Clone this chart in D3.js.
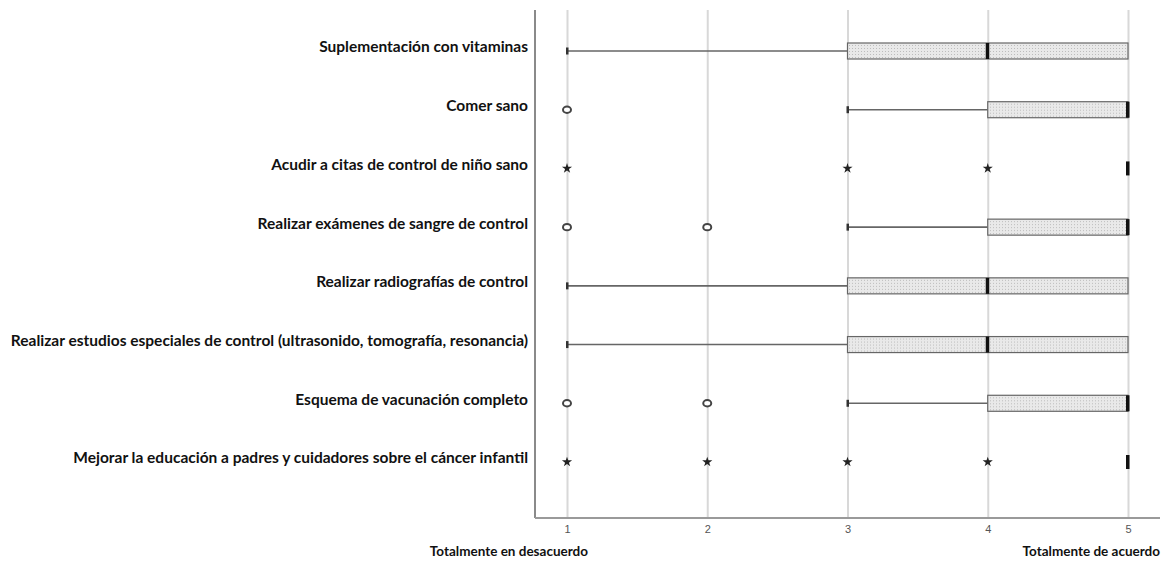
<!DOCTYPE html>
<html>
<head>
<meta charset="utf-8">
<script src="https://cdn.jsdelivr.net/npm/d3@7"></script>
<style>
  body { margin: 0; background: #fff; }
  svg { display: block; }
</style>
</head>
<body>
<svg width="1166" height="567"></svg>
<script>
"use strict";

// categories, top to bottom
var categories = [
    "Suplementación con vitaminas",
    "Comer sano",
    "Acudir a citas de control de niño sano",
    "Realizar exámenes de sangre de control",
    "Realizar radiografías de control",
    "Realizar estudios especiales de control (ultrasonido, tomografía, resonancia)",
    "Esquema de vacunación completo",
    "Mejorar la educación a padres y cuidadores sobre el cáncer infantil"
];
var whiskerMin = [1, 3, 5, 3, 1, 1, 3, 5];
var q1Values   = [3, 4, 5, 4, 3, 3, 4, 5];
var medians    = [4, 5, 5, 5, 4, 4, 5, 5];
var q3Values   = [5, 5, 5, 5, 5, 5, 5, 5];
var outliers   = [[], [1], [], [1, 2], [], [], [1, 2], []];
var extremes   = [[], [], [1, 3, 4], [], [], [], [], [1, 2, 3, 4]];
var tickValues = [1, 2, 3, 4, 5];
var axisLeftLabel = "Totalmente en desacuerdo";
var axisRightLabel = "Totalmente de acuerdo";

var svg = d3.select("svg");

var plotTop = 10, base = 518, axisX = 535;
var x = d3.scaleLinear().domain([1, 5]).range([567, 1128]);
var y = d3.scalePoint().domain(categories).range([51, 462]);

// dotted fill for the boxes
var pat = svg.append("defs").append("pattern")
    .attr("id", "dots").attr("patternUnits", "userSpaceOnUse")
    .attr("width", 3).attr("height", 3);
pat.append("rect").attr("width", 3).attr("height", 3).attr("fill", "#e9e9e9");
pat.append("rect").attr("width", 1).attr("height", 1).attr("fill", "#bdbdbd");

// vertical grid lines
svg.append("g")
    .attr("transform", "translate(0," + base + ")")
    .call(d3.axisBottom(x).tickValues(tickValues).tickSize(-(base - plotTop)).tickFormat(""))
    .call(function(g){
        g.select(".domain").remove();
        g.selectAll("line").attr("stroke", "#d8d8d8").attr("stroke-width", 2);
    });

// axis lines
svg.append("line").attr("x1", axisX).attr("x2", axisX).attr("y1", plotTop).attr("y2", base)
    .attr("stroke", "#8a8a8a").attr("stroke-width", 2);
svg.append("line").attr("x1", axisX).attr("x2", 1160).attr("y1", base).attr("y2", base)
    .attr("stroke", "#9a9a9a").attr("stroke-width", 2);

// tick labels
svg.append("g")
    .attr("transform", "translate(0," + base + ")")
    .call(d3.axisBottom(x).tickValues(tickValues).tickSize(0).tickPadding(7).tickFormat(d3.format("d")))
    .call(function(g){
        g.select(".domain").remove();
        g.selectAll("text").attr("fill", "#555").style("font-family", "Liberation Sans, Arial, sans-serif")
            .style("font-size", "11px");
    });

// category labels
svg.append("g").selectAll("text")
    .data(categories)
    .enter().append("text")
    .attr("x", 528)
    .attr("y", function(d){ return y(d) - 4; })
    .attr("dy", "0.35em")
    .attr("text-anchor", "end")
    .style("font-family", "Lato, sans-serif")
    .style("font-weight", "bold")
    .style("font-size", "15.5px")
    .attr("fill", "#111")
    .text(function(d){ return d; });

var rows = categories.map(function(c, i){
    return { cat: c, min: whiskerMin[i], q1: q1Values[i], med: medians[i], q3: q3Values[i],
             out: outliers[i], ext: extremes[i] };
});

var g = svg.append("g").selectAll("g").data(rows).enter().append("g")
    .attr("transform", function(d){ return "translate(0," + y(d.cat) + ")"; });

// whisker
g.filter(function(d){ return d.min < d.q1; }).append("line")
    .attr("x1", function(d){ return x(d.min); })
    .attr("x2", function(d){ return x(d.q1); })
    .attr("stroke", "#666").attr("stroke-width", 1.6);
g.filter(function(d){ return d.min < d.q1; }).append("rect")
    .attr("x", function(d){ return x(d.min) - 1; })
    .attr("y", -3.5).attr("width", 2.5).attr("height", 7)
    .attr("fill", "#333");

// box
g.filter(function(d){ return d.q1 < d.q3; }).append("rect")
    .attr("x", function(d){ return x(d.q1); })
    .attr("y", -8).attr("height", 16)
    .attr("width", function(d){ return x(d.q3) - x(d.q1); })
    .attr("fill", "url(#dots)").attr("stroke", "#666").attr("stroke-width", 1.2);

// median
g.append("rect")
    .attr("x", function(d){ return x(d.med) - 2; })
    .attr("y", function(d){ return d.q1 < d.q3 ? -8 : -7; })
    .attr("width", 3.5)
    .attr("height", function(d){ return d.q1 < d.q3 ? 16 : 14; })
    .attr("fill", "#111");

// outliers (circles)
g.selectAll("ellipse").data(function(d){ return d.out; }).enter().append("ellipse")
    .attr("cx", function(v){ return x(v); })
    .attr("rx", 4).attr("ry", 3.2)
    .attr("fill", "#fff").attr("stroke", "#444").attr("stroke-width", 2);

// extremes (stars)
g.selectAll("path.star").data(function(d){ return d.ext; }).enter().append("path")
    .attr("class", "star")
    .attr("transform", function(v){ return "translate(" + x(v) + ",0)"; })
    .attr("d", d3.symbol().type(d3.symbolStar).size(32))
    .attr("fill", "#222");

// end labels
svg.append("text").attr("x", 588).attr("y", 556).attr("text-anchor", "end")
    .style("font-family", "Lato, sans-serif").style("font-weight", "bold").style("font-size", "13.5px")
    .attr("fill", "#111").text(axisLeftLabel);
svg.append("text").attr("x", 1160).attr("y", 556).attr("text-anchor", "end")
    .style("font-family", "Lato, sans-serif").style("font-weight", "bold").style("font-size", "13.5px")
    .attr("fill", "#111").text(axisRightLabel);
</script>
</body>
</html>
